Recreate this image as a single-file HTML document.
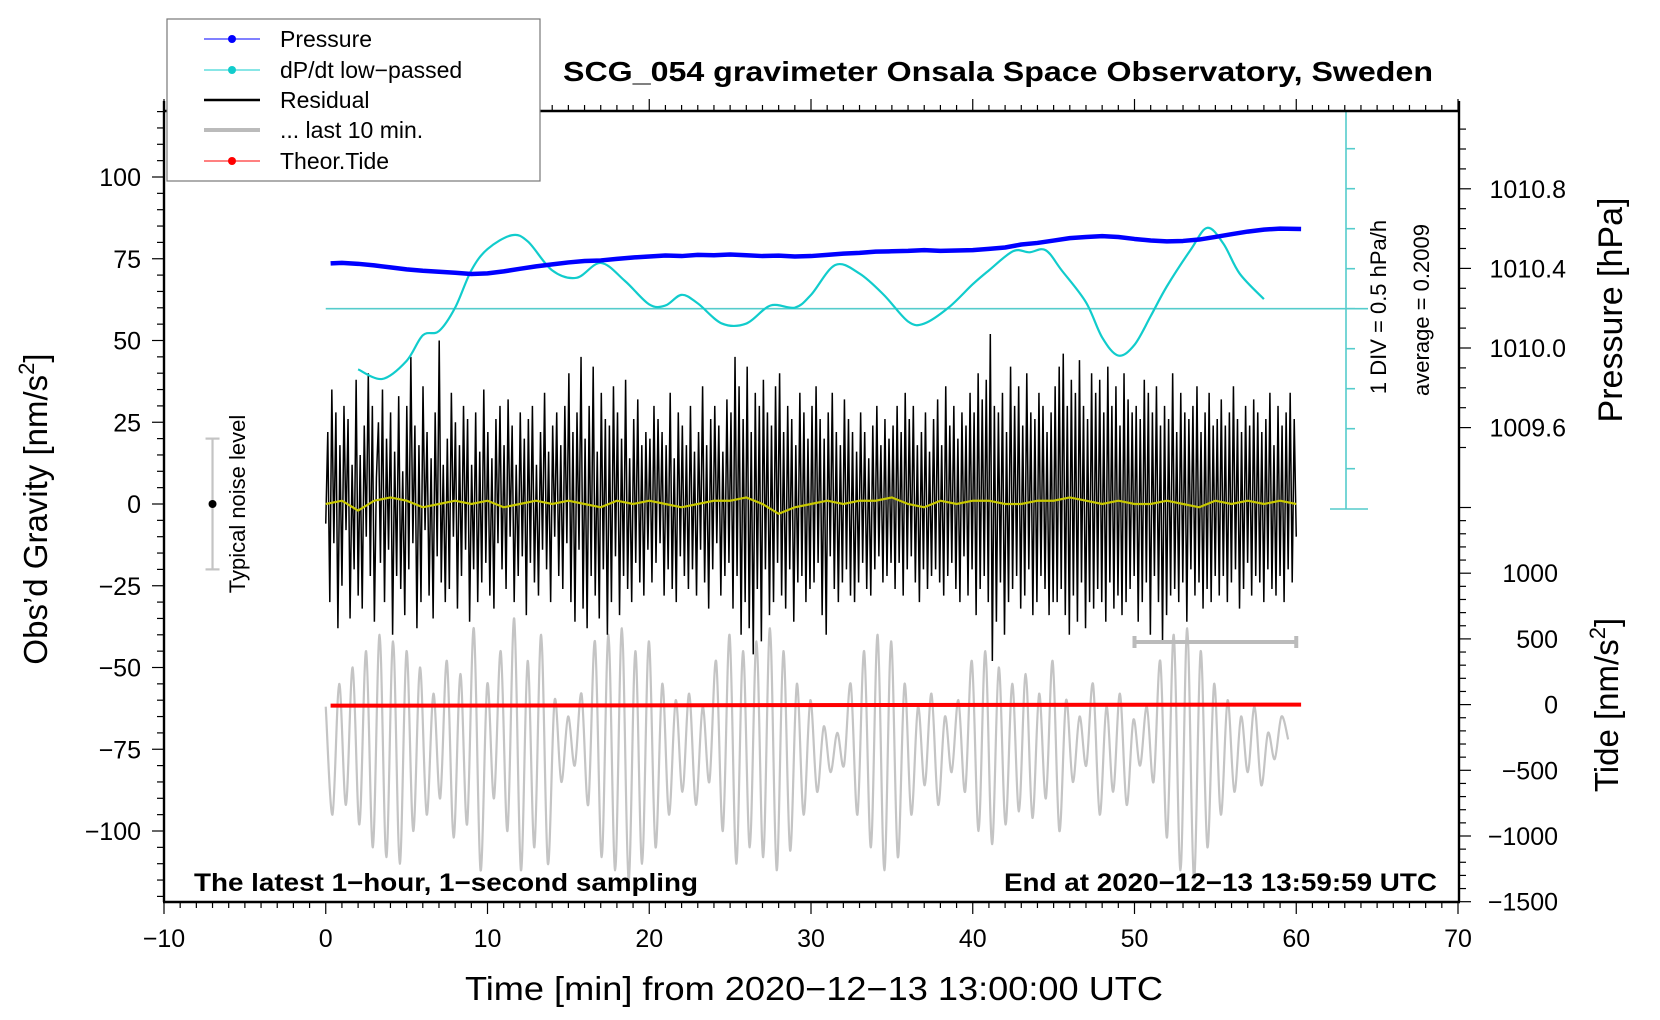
<!DOCTYPE html>
<html><head><meta charset="utf-8"><style>
html,body{margin:0;padding:0;background:#fff}
svg{display:block;font-family:"Liberation Sans",Arial,sans-serif}
</style></head><body>
<svg id="chart" width="1660" height="1020" viewBox="0 0 1660 1020" xmlns="http://www.w3.org/2000/svg">
<rect x="0" y="0" width="1660" height="1020" fill="#fff"/>
<g id="marks"></g>
<g id="axes"></g>
<text x="998" y="81" text-anchor="middle" font-size="28" font-weight="bold" textLength="870" lengthAdjust="spacingAndGlyphs">SCG_054 gravimeter Onsala Space Observatory, Sweden</text>
<text x="194" y="891" font-size="25" font-weight="bold" textLength="504" lengthAdjust="spacingAndGlyphs">The latest 1−hour, 1−second sampling</text>
<text x="1437" y="891" text-anchor="end" font-size="25" font-weight="bold" textLength="433" lengthAdjust="spacingAndGlyphs">End at 2020−12−13 13:59:59 UTC</text>
<text x="814" y="1000" text-anchor="middle" font-size="33" textLength="698" lengthAdjust="spacingAndGlyphs">Time [min] from 2020−12−13 13:00:00 UTC</text>
<text transform="translate(47,509) rotate(-90)" text-anchor="middle" font-size="33">Obs’d Gravity [nm/s<tspan dy="-13" font-size="22">2</tspan><tspan dy="13">]</tspan></text>
<text transform="translate(1622,310) rotate(-90)" text-anchor="middle" font-size="34">Pressure [hPa]</text>
<text transform="translate(1618,705) rotate(-90)" text-anchor="middle" font-size="33">Tide [nm/s<tspan dy="-13" font-size="22">2</tspan><tspan dy="13">]</tspan></text>
<text transform="translate(1386,307) rotate(-90)" text-anchor="middle" font-size="22">1 DIV = 0.5 hPa/h</text>
<text transform="translate(1429,310) rotate(-90)" text-anchor="middle" font-size="22">average = 0.2009</text>
<text transform="translate(245,504) rotate(-90)" text-anchor="middle" font-size="22">Typical noise level</text>
<g>
<rect x="167" y="19" width="373" height="162" fill="#fff" stroke="#777" stroke-width="1.2"/>
<line x1="204" y1="39" x2="260" y2="39" stroke="#00f" stroke-width="1"/><circle cx="232" cy="39" r="4" fill="#00f"/>
<text x="280" y="47" font-size="23">Pressure</text>
<line x1="204" y1="70" x2="260" y2="70" stroke="#1cc" stroke-width="1"/><circle cx="232" cy="70" r="4" fill="#1cc"/>
<text x="280" y="78" font-size="23">dP/dt low−passed</text>
<line x1="204" y1="100" x2="260" y2="100" stroke="#000" stroke-width="2.5"/>
<text x="280" y="108" font-size="23">Residual</text>
<line x1="204" y1="130" x2="260" y2="130" stroke="#bbb" stroke-width="4"/>
<text x="280" y="138" font-size="23">... last 10 min.</text>
<line x1="204" y1="161" x2="260" y2="161" stroke="#f00" stroke-width="1"/><circle cx="232" cy="161" r="4" fill="#f00"/>
<text x="280" y="169" font-size="23">Theor.Tide</text>
</g>
</svg>
<script>
const pressT=[0.3,1,2,3,4,5,6,7,8,9,10,11,12,13,14,15,16,17,18,19,20,21,22,23,24,25,26,27,28,29,30,31,32,33,34,35,36,37,38,39,40,41,42,43,44,45,46,47,48,49,50,51,52,53,54,55,56,57,58,59,60.3];
const pressV=[1010.425,1010.428,1010.423,1010.415,1010.405,1010.395,1010.388,1010.383,1010.378,1010.372,1010.375,1010.385,1010.398,1010.41,1010.42,1010.43,1010.437,1010.44,1010.448,1010.455,1010.46,1010.465,1010.462,1010.468,1010.466,1010.47,1010.466,1010.462,1010.464,1010.46,1010.462,1010.468,1010.474,1010.478,1010.484,1010.486,1010.488,1010.492,1010.488,1010.49,1010.492,1010.498,1010.505,1010.52,1010.528,1010.54,1010.552,1010.558,1010.562,1010.558,1010.548,1010.54,1010.536,1010.538,1010.545,1010.558,1010.572,1010.585,1010.595,1010.6,1010.598];
const dpT=[2,3.5,5,6,7,8,9,10,11.5,12.5,14,15.5,17,18.5,20,21,22,23,24.5,26,27.5,29,30,31.5,33,34.5,36,37,38.5,40,41,42.5,43.5,44.5,45.5,47,48,49,50,51,52,53.5,54.5,55.5,56.5,58];
const dpV=[-0.558,-0.677,-0.451,-0.132,-0.079,0.214,0.68,0.946,1.119,1.04,0.68,0.587,0.773,0.547,0.254,0.241,0.374,0.267,0.015,0.015,0.241,0.214,0.374,0.747,0.64,0.374,0.041,0.015,0.214,0.507,0.68,0.92,0.906,0.933,0.68,0.281,-0.158,-0.385,-0.251,0.108,0.48,0.946,1.212,1.013,0.64,0.321];
const dpAvg=0.2009;
const residual=[
-6,22,-30,35,-12,28,-38,18,-25,30,-8,26,-35,12,-20,38,-28,15,-32,24,
-10,40,-22,30,-36,8,25,-18,35,-30,20,-14,28,-40,16,-22,33,-26,10,-34,
30,-20,45,-12,24,-38,18,-30,36,-8,22,-28,14,-35,28,-16,50,-24,12,-30,
20,-26,34,-10,25,-32,18,-22,30,-14,26,-36,12,-20,28,-30,16,-24,35,-18,
22,-28,14,-32,26,-12,30,-20,18,-26,32,-10,24,-30,12,-22,28,-16,20,-34,
26,-18,30,-24,12,-28,22,-14,34,-20,16,-30,24,-10,28,-22,18,-26,30,-12,
40,-30,22,-36,28,-14,45,-32,20,-38,30,-22,42,-28,16,-35,34,-20,26,-40,
24,-30,36,-16,28,-34,20,-22,38,-26,14,-30,26,-18,32,-24,18,-28,22,-14,
20,-24,30,-18,26,-12,22,-28,18,-20,34,-26,14,-30,28,-16,24,-22,18,-26,
30,-20,16,-28,22,-14,36,-24,18,-32,26,-20,30,-12,24,-28,16,-22,32,-18,
28,-32,45,-22,36,-40,26,-30,42,-38,22,-46,34,-26,30,-42,38,-20,28,-34,
24,-30,36,-18,40,-28,22,-32,30,-20,26,-36,18,-24,34,-22,28,-30,20,-26,
30,-24,36,-18,26,-34,20,-40,28,-16,34,-26,22,-30,18,-24,32,-20,26,-28,
22,-30,16,-24,28,-18,22,-26,14,-28,24,-20,30,-16,18,-24,26,-22,20,-18,
24,-26,30,-18,22,-28,34,-20,26,-16,30,-24,18,-30,22,-20,28,-26,16,-22,
26,-20,32,-24,18,-28,36,-22,24,-18,30,-26,20,-30,28,-16,24,-28,34,-20,
28,-34,40,-26,32,-22,38,-30,52,-48,30,-36,28,-24,34,-40,22,-30,42,-26,
30,-22,36,-32,24,-28,40,-20,28,-34,26,-30,34,-22,30,-26,22,-34,28,-30,
36,-30,42,-26,46,-34,30,-40,38,-28,34,-36,44,-24,30,-38,26,-30,40,-32,
34,-26,38,-30,28,-36,42,-24,30,-32,36,-28,24,-34,40,-30,32,-26,28,-22,
30,-36,26,-30,38,-24,34,-40,28,-22,36,-30,24,-42,30,-34,26,-28,40,-26,
22,-30,34,-24,28,-36,26,-20,30,-28,36,-24,22,-32,28,-26,34,-30,24,-22,
26,-28,32,-22,24,-30,28,-24,36,-20,26,-32,22,-26,30,-18,24,-28,32,-22,
28,-24,22,-30,26,-20,34,-26,18,-28,30,-22,24,-30,28,-20,34,-24,26,-10];
const smoothRes=[0,1,-2,1,2,1,-1,0,1,0,1,-1,0,1,0,1,0,-1,1,0,1,0,-1,0,1,1,2,0,-3,-1,0,1,0,1,1,2,0,-1,1,0,1,1,0,0,1,1,2,1,0,1,0,0,1,0,-1,1,0,1,0,1,0];
const last10=[-62,-95,-55,-92,-50,-98,-45,-105,-40,-108,-42,-110,-45,-100,-50,-95,-58,-90,-48,-102,-52,-98,-38,-112,-55,-90,-45,-100,-35,-112,-48,-105,-40,-110,-60,-85,-65,-80,-58,-92,-42,-108,-40,-112,-38,-115,-45,-110,-42,-105,-55,-95,-60,-88,-58,-92,-62,-85,-48,-100,-40,-110,-45,-105,-42,-108,-38,-112,-45,-106,-55,-95,-60,-88,-68,-82,-70,-80,-55,-95,-45,-105,-40,-112,-42,-108,-55,-95,-62,-86,-58,-92,-65,-82,-60,-88,-48,-100,-45,-104,-50,-98,-55,-94,-52,-96,-58,-90,-48,-100,-60,-85,-65,-80,-55,-95,-62,-88,-58,-92,-66,-80,-62,-85,-48,-102,-40,-112,-38,-115,-45,-105,-55,-95,-60,-88,-65,-82,-62,-86,-70,-78,-65,-72];
const tideT=[0.3,60.3];
const tideV=[-8,0];
const xTicks=[-10,0,10,20,30,40,50,60,70];
const gTicks=[-100,-75,-50,-25,0,25,50,75,100];
const pTicks=[1009.6,1010.0,1010.4,1010.8];
const tTicks=[-1500,-1000,-500,0,500,1000];

const NS='http://www.w3.org/2000/svg';
const X=t=>325.75+t*16.175;
const YG=g=>504-g*3.27;
const YP=p=>348-(p-1010)*199;
const YC=v=>308.7-(v-dpAvg)*80;
const YT=v=>704.6-v*0.1314;
const marks=document.getElementById('marks'),axes=document.getElementById('axes');
function el(tag,attrs,parent){const e=document.createElementNS(NS,tag);for(const k in attrs)e.setAttribute(k,attrs[k]);parent.appendChild(e);return e;}
function pts(xs,ys){return xs.map((x,i)=>x.toFixed(2)+','+ys[i].toFixed(2)).join(' ');}
function smoothPath(px,py){let d='M'+px[0]+','+py[0];for(let i=0;i<px.length-1;i++){const x0=px[Math.max(i-1,0)],y0=py[Math.max(i-1,0)],x1=px[i],y1=py[i],x2=px[i+1],y2=py[i+1],x3=px[Math.min(i+2,px.length-1)],y3=py[Math.min(i+2,px.length-1)];d+=' C'+(x1+(x2-x0)/6).toFixed(2)+','+(y1+(y2-y0)/6).toFixed(2)+' '+(x2-(x3-x1)/6).toFixed(2)+','+(y2-(y3-y1)/6).toFixed(2)+' '+x2.toFixed(2)+','+y2.toFixed(2);}return d;}

// gray last-10-min
{const n=last10.length;const px=last10.map((v,i)=>X(i*59.5/(n-1)));const py=last10.map(YG);
const p=el('path',{d:smoothPath(px,py),fill:'none',stroke:'#c4c4c4','stroke-width':2.2},marks);

}
// residual
{const n=residual.length;const px=residual.map((v,i)=>X(i*60/(n-1)));const py=residual.map(YG);
const p=el('polyline',{points:pts(px,py),fill:'none',stroke:'#000','stroke-width':1.5,'stroke-linejoin':'miter'},marks);

}
// smoothed residual (yellow)
{const n=smoothRes.length;const px=smoothRes.map((v,i)=>X(i*60/(n-1)));const py=smoothRes.map(YG);
const p=el('polyline',{points:pts(px,py),fill:'none',stroke:'#c8c800','stroke-width':2.2},marks);

}
// tide
{const p=el('polyline',{points:pts(tideT.map(X),tideV.map(YT)),fill:'none',stroke:'#f00','stroke-width':4},marks);

}
// dP/dt axis & baseline
{const g=el('g',{stroke:'#5cc','stroke-width':1.6},marks);


el('line',{x1:X(0),y1:YC(dpAvg),x2:1368,y2:YC(dpAvg)},g);
el('line',{x1:1346,y1:111,x2:1346,y2:509},g);
el('line',{x1:1330,y1:509,x2:1368,y2:509},g);
el('line',{x1:1330,y1:111,x2:1362,y2:111},g);
for(let k=-5;k<=5;k++){const y=YC(dpAvg+k*0.5);if(y>111&&y<505)el('line',{x1:1346,y1:y,x2:1355,y2:y},g);}}
// dP/dt curve
{const p=el('path',{d:smoothPath(dpT.map(X),dpV.map(YC)),fill:'none',stroke:'#1cc','stroke-width':2.2},marks);

}
// pressure
{const p=el('polyline',{points:pts(pressT.map(X),pressV.map(YP)),fill:'none',stroke:'#00f','stroke-width':4.5,'stroke-linejoin':'round'},marks);

}
// noise bar
{const g=el('g',{},marks);


const x=X(-7);el('line',{x1:x,y1:YG(20),x2:x,y2:YG(-20),stroke:'#c4c4c4','stroke-width':2.2},g);
el('line',{x1:x-7,y1:YG(20),x2:x+7,y2:YG(20),stroke:'#c4c4c4','stroke-width':2.2},g);
el('line',{x1:x-7,y1:YG(-20),x2:x+7,y2:YG(-20),stroke:'#c4c4c4','stroke-width':2.2},g);
el('circle',{cx:x,cy:YG(0),r:4,fill:'#000'},g);}
// last-10 range bar
{const g=el('g',{stroke:'#bbb','stroke-width':4},marks);


el('line',{x1:X(50),y1:642,x2:X(60),y2:642},g);
el('line',{x1:X(50),y1:636,x2:X(50),y2:648},g);
el('line',{x1:X(60),y1:636,x2:X(60),y2:648},g);}

// frame
{const g=el('g',{stroke:'#000','stroke-width':2.4,fill:'none'},axes);


el('line',{x1:164,y1:101,x2:164,y2:902},g);
el('line',{x1:1459,y1:101,x2:1459,y2:902},g);
el('line',{x1:163,y1:111,x2:1460,y2:111},g);
el('line',{x1:163,y1:902,x2:1460,y2:902},g);}
// x ticks
{const g=el('g',{stroke:'#000','stroke-width':1.2},axes);


for(let t=-10;t<=70;t++){const x=X(t),L=(t%10===0)?12:6;el('line',{x1:x,y1:902,x2:x,y2:902+L},g);el('line',{x1:x,y1:111,x2:x,y2:111-L},g);}
xTicks.forEach(t=>{const tx=el('text',{x:X(t),y:947,'text-anchor':'middle','font-size':25,stroke:'none'},g);tx.textContent=String(t).replace('-','−');

});}
// left ticks
{const g=el('g',{stroke:'#000','stroke-width':1.2},axes);


for(let v=-120;v<=120;v+=5){const y=YG(v);if(y<111||y>902)continue;const L=(v%25===0)?12:7;el('line',{x1:164-L,y1:y,x2:164,y2:y},g);}
gTicks.forEach(v=>{const tx=el('text',{x:141,y:YG(v)+9,'text-anchor':'end','font-size':25,stroke:'none'},g);tx.textContent=String(v).replace('-','−');

});}
// right ticks: pressure
{const g=el('g',{stroke:'#000','stroke-width':1.2},axes);


for(let k=0;k<=20;k++){const p=1009.5+k*0.1;const y=YP(p);if(y<112||y>505)continue;const L=(k%4===1)?12:7;el('line',{x1:1459,y1:y,x2:1459+L,y2:y},g);}
pTicks.forEach(v=>{const tx=el('text',{x:1566,y:YP(v)+9,'text-anchor':'end','font-size':25,stroke:'none'},g);tx.textContent=v.toFixed(1);

});}
// right ticks: tide
{const g=el('g',{stroke:'#000','stroke-width':1.2},axes);


for(let v=-1500;v<=1500;v+=100){const y=YT(v);if(y<505||y>902)continue;const L=(v%500===0)?12:7;el('line',{x1:1459,y1:y,x2:1459+L,y2:y},g);}
tTicks.forEach(v=>{const tx=el('text',{x:1558,y:YT(v)+9,'text-anchor':'end','font-size':25,stroke:'none'},g);tx.textContent=String(v).replace('-','−');

});}
</script>
</body></html>
